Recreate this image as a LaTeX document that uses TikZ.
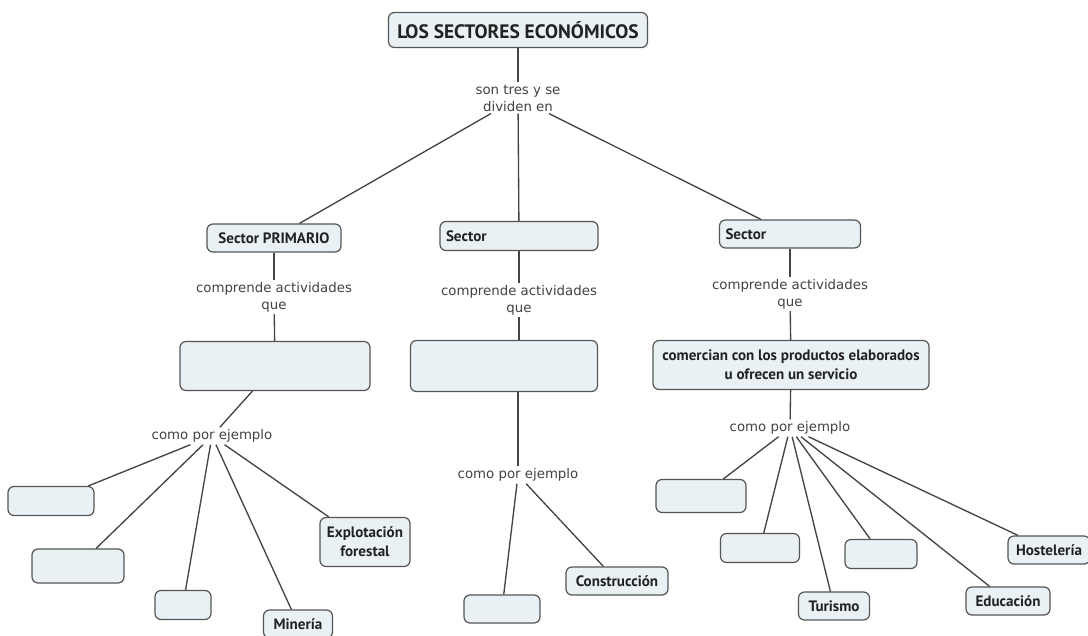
\documentclass[tikz,border=0pt]{standalone}
\usepackage{fontspec}
\setmainfont{DejaVu Sans}
\newfontfamily\cfont{PT Sans}
\definecolor{boxfill}{HTML}{EAF1F5}
\definecolor{boxline}{HTML}{555555}
\definecolor{linkc}{HTML}{444444}
\definecolor{txt}{HTML}{222222}
\tikzset{
  concept/.style={draw=boxline, fill=boxfill, rounded corners=4.5pt, line width=0.9pt,
    inner sep=0pt, align=center, text=txt, font=\cfont\bfseries\fontsize{11.3pt}{14pt}\selectfont},
  linklab/.style={inner sep=1.5pt, align=center, text=txt!85!white,
    font=\fontsize{10pt}{12.75pt}\selectfont},
  conn/.style={draw=linkc, line width=1pt}
}
\begin{document}
\begin{tikzpicture}[x=0.75pt,y=-0.75pt]
\useasboundingbox[fill=white] (0,0) rectangle (1088,635);
% concepts
\node[concept, minimum width=194.25pt, minimum height=26.25pt, font=\cfont\bfseries\fontsize{14.6pt}{17pt}\selectfont] (title) at (518,30) {LOS SECTORES ECON\'OMICOS};
\node[concept, minimum width=100.5pt, minimum height=21pt] (sp) at (274,238) {Sector PRIMARIO};
\node[concept, minimum width=118.5pt, minimum height=21.75pt, text width=109.5pt, align=left] (ss) at (519,236) {Sector};
\node[concept, minimum width=105.75pt, minimum height=21pt, text width=96.75pt, align=left] (st) at (790,234) {Sector};
\node[concept, minimum width=142.5pt, minimum height=36.75pt] (bp) at (275,366) {};
\node[concept, minimum width=140.25pt, minimum height=38.25pt] (bs) at (504,366) {};
\node[concept, minimum width=207pt, minimum height=36.75pt] (bt) at (791,365) {comercian con los productos elaborados\\u ofrecen un servicio};
% primary examples
\node[concept, minimum width=64.5pt, minimum height=21.75pt] (p1) at (51,501) {};
\node[concept, minimum width=69pt, minimum height=25.5pt] (p2) at (78,566) {};
\node[concept, minimum width=42pt, minimum height=21.75pt] (p3) at (183,605) {};
\node[concept, minimum width=51.75pt, minimum height=21pt] (p4) at (298,624) {Miner\'ia};
\node[concept, minimum width=67.5pt, minimum height=36.75pt] (p5) at (365,542) {Explotaci\'on\\forestal};
% secondary examples
\node[concept, minimum width=57pt, minimum height=21pt] (s1) at (502,609) {};
\node[concept, minimum width=76.5pt, minimum height=21pt] (s2) at (617,581) {Construcci\'on};
% tertiary examples
\node[concept, minimum width=67.5pt, minimum height=24.75pt] (t1) at (701,496) {};
\node[concept, minimum width=59.25pt, minimum height=21.75pt] (t2) at (760,548) {};
\node[concept, minimum width=53.25pt, minimum height=21pt] (t3) at (834,606) {Turismo};
\node[concept, minimum width=54pt, minimum height=21.75pt] (t4) at (881,554) {};
\node[concept, minimum width=63pt, minimum height=21pt] (t5) at (1008,601) {Educaci\'on};
\node[concept, minimum width=61.5pt, minimum height=21pt] (t6) at (1049,550) {Hosteler\'ia};
% link labels
\node[linklab] (l0) at (518,98) {son tres y se\\dividen en};
\node[linklab] (lp) at (274,297) {comprende actividades\\que};
\node[linklab] (ls) at (519,300) {comprende actividades\\que};
\node[linklab] (lt) at (790,294) {comprende actividades\\que};
\node[linklab] (ep) at (212,436) {como por ejemplo};
\node[linklab] (es) at (518,475) {como por ejemplo};
\node[linklab] (et) at (790,428) {como por ejemplo};
% connectors
\draw[conn] (title) -- (l0);
\draw[conn] (l0) -- (sp);
\draw[conn] (l0) -- (ss);
\draw[conn] (l0) -- (st);
\draw[conn] (sp) -- (lp);
\draw[conn] (lp) -- (bp);
\draw[conn] (ss) -- (ls);
\draw[conn] (ls) -- (ls |- bs.north);
\draw[conn] (st) -- (lt);
\draw[conn] (lt) -- (bt);
\draw[conn] (bp) -- (ep);
\draw[conn] (es |- bs.south) -- (es);
\draw[conn] (bt) -- (et);
\draw[conn] (ep) -- (p1);
\draw[conn] (ep) -- (p2);
\draw[conn] (ep) -- (p3);
\draw[conn] (ep) -- (p4);
\draw[conn] (ep) -- (p5);
\draw[conn] (es) -- (s1);
\draw[conn] (es) -- (s2);
\draw[conn] (et) -- (t1);
\draw[conn] (et) -- (t2);
\draw[conn] (et) -- (t3);
\draw[conn] (et) -- (t4);
\draw[conn] (et) -- (t5);
\draw[conn] (et) -- (t6);
\end{tikzpicture}
\end{document}
